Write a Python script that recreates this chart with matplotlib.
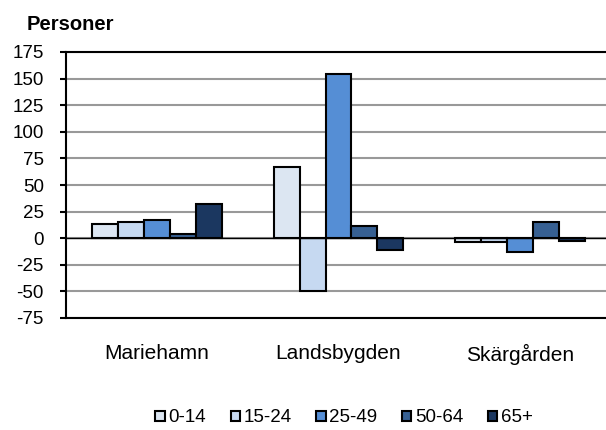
import matplotlib as mpl
import matplotlib.pyplot as plt
import numpy as np

mpl.rcParams['font.family'] = ['Liberation Sans', 'DejaVu Sans']

# data
regions = ["Mariehamn", "Landsbygden", "Skärgården"]
age_groups = ["0-14", "15-24", "25-49", "50-64", "65+"]
v_0_14 = [13, 67, -4]
v_15_24 = [15, -50, -4]
v_25_49 = [17, 154, -13]
v_50_64 = [4, 11, 15]
v_65 = [32, -11, -3]
yticks = [-75, -50, -25, 0, 25, 50, 75, 100, 125, 150, 175]

colors = ["#DCE6F2", "#C6D9F1", "#558ED5", "#376092", "#1B3760"]
series = [v_0_14, v_15_24, v_25_49, v_50_64, v_65]

fig = plt.figure(figsize=(6.06, 4.30), dpi=100)
ax = fig.add_axes([66 / 606, 112 / 430, 545 / 606, 266 / 430])

x = np.arange(len(regions))
bw = 0.143
for i, (vals, c) in enumerate(zip(series, colors)):
    ax.bar(x + (i - 2) * bw, vals, bw, color=c, edgecolor='black',
           linewidth=1.5, label=age_groups[i], zorder=3)

ax.axhline(0, color='black', linewidth=1.0, zorder=4)
ax.set_xlim(-0.5, 2.5)
ax.set_ylim(-75, 175)
ax.set_yticks(yticks)
ax.set_yticklabels([str(t) for t in yticks], fontsize=13.5)
ax.yaxis.grid(True, color='#999999', linewidth=1.5, zorder=0)
ax.set_xticks(x)
ax.set_xticklabels(regions, fontsize=15)
ax.tick_params(axis='x', length=0, pad=19)
ax.tick_params(axis='y', length=4, width=1.5, color='black', pad=12)

for s in ['top', 'bottom', 'left']:
    ax.spines[s].set_linewidth(1.5)
    ax.spines[s].set_color('black')
ax.spines['right'].set_visible(False)

fig.text(27 / 606, 1 - 24 / 430, "Personer", fontsize=14.5, fontweight='bold',
         va='center', ha='left')

ax.legend(loc='center', bbox_to_anchor=(344 / 606, 1 - 418 / 430),
          bbox_transform=fig.transFigure, ncol=5, frameon=False, fontsize=13.5,
          handlelength=0.5, handleheight=0.5, handletextpad=0.2,
          columnspacing=1.3, borderpad=0)

plt.savefig('out.png', dpi=100)
